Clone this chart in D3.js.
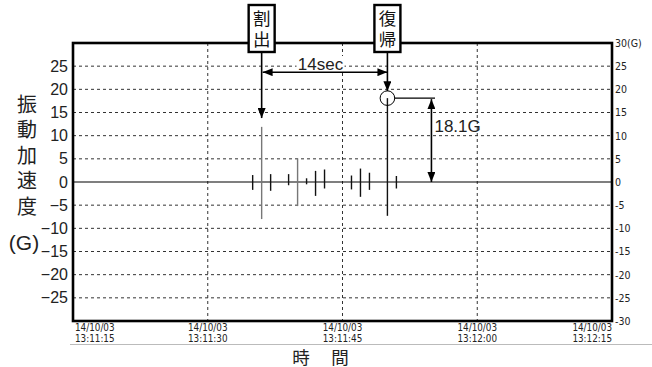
<!DOCTYPE html>
<html>
<head>
<meta charset="utf-8">
<script src="https://cdn.jsdelivr.net/npm/d3@7"></script>
<style>
  body { margin: 0; background: #fff; }
  svg { display: block; }
  .vert { writing-mode: vertical-rl; text-orientation: upright; }
</style>
</head>
<body>
<svg id="chart" width="652" height="367"></svg>
<script>
// seconds after 13:11:15 for each vibration spike, with its peak up / down (G)
const spikeTimes = [20, 21, 22, 24, 25, 26, 27, 28, 31, 32, 33, 35, 36]
const spikeMax = [1.5, 11.9, 1.7, 1.7, 5.1, 0.8, 2.4, 2.7, 1.4, 2.9, 2.0, 18.1, 1.3]
const spikeMin = [-1.7, -8.0, -1.9, -0.7, -5.2, -0.5, -3.0, -1.4, -1.6, -3.2, -1.7, -7.3, -1.4]

const timeTicks = [0, 15, 30, 45, 60]
const dateLabels = ['14/10/03', '14/10/03', '14/10/03', '14/10/03', '14/10/03']
const timeLabels = ['13:11:15', '13:11:30', '13:11:45', '13:12:00', '13:12:15']
const gTicks = [-25, -20, -15, -10, -5, 0, 5, 10, 15, 20, 25]
const rightTicks = [-30, -25, -20, -15, -10, -5, 0, 5, 10, 15, 20, 25, 30]

const cutTime = 21, returnTime = 35, peak = 18.1

const svg = d3.select('#chart')
const x = d3.scaleLinear().domain([0, 60]).range([73, 612])
const y = d3.scaleLinear().domain([-30, 30]).range([321, 43])

const sans = 'Arial, "Liberation Sans", sans-serif'
const narrow = '"DejaVu Sans Condensed", "Liberation Sans Narrow", sans-serif'
const cjk = '"Noto Sans CJK JP", sans-serif'

// arrow head
svg.append('defs').append('marker')
    .attr('id', 'head')
    .attr('viewBox', '0 0 10 8')
    .attr('refX', 10).attr('refY', 4)
    .attr('markerWidth', 10).attr('markerHeight', 8)
    .attr('markerUnits', 'userSpaceOnUse')
    .attr('orient', 'auto-start-reverse')
  .append('path').attr('d', 'M0,0L10,4L0,8Z').attr('fill', '#000')

// grid
const grid = svg.append('g')
grid.selectAll('.hg').data(gTicks.filter(d => d !== 0)).join('line')
    .attr('x1', x(0)).attr('x2', x(60))
    .attr('y1', d => y(d)).attr('y2', d => y(d))
    .attr('stroke', '#333').attr('stroke-dasharray', '3,3')
grid.selectAll('.vg').data(timeTicks.slice(1, -1)).join('line')
    .attr('x1', d => x(d)).attr('x2', d => x(d))
    .attr('y1', y(30)).attr('y2', y(-30))
    .attr('stroke', '#333').attr('stroke-dasharray', '3,3')
svg.append('line')
    .attr('x1', x(0)).attr('x2', x(60))
    .attr('y1', y(0)).attr('y2', y(0))
    .attr('stroke', '#000').attr('stroke-width', 1.2)

// spikes
const spikes = spikeTimes.map((t, i) => ({t, hi: spikeMax[i], lo: spikeMin[i]}))
svg.append('g').selectAll('line').data(spikes).join('line')
    .attr('x1', d => x(d.t)).attr('x2', d => x(d.t))
    .attr('y1', d => y(d.hi)).attr('y2', d => y(d.lo))
    .attr('stroke', d => (d.t === 21 || d.t === 25) ? '#777' : '#111')
    .attr('stroke-width', 1.4)

// frame
svg.append('rect')
    .attr('x', x(0)).attr('y', y(30))
    .attr('width', x(60) - x(0)).attr('height', y(-30) - y(30))
    .attr('fill', 'none').attr('stroke', '#000').attr('stroke-width', 2.6)

// left axis
const left = svg.append('g').attr('transform', `translate(${x(0) - 4},0)`)
    .call(d3.axisLeft(y).tickValues(gTicks).tickSize(0).tickPadding(1))
left.select('.domain').remove()
left.selectAll('text').attr('font-family', sans).attr('font-size', 16).attr('fill', '#222')

// right axis
const right = svg.append('g').attr('transform', `translate(${x(60) + 2},0)`)
    .call(d3.axisRight(y).tickValues(rightTicks).tickSize(0).tickPadding(1)
        .tickFormat(d => d === 30 ? '30(G)' : d))
right.select('.domain').remove()
right.selectAll('text').attr('font-family', narrow).attr('font-size', 10.5).attr('fill', '#222')

// bottom time labels, date over time in one text
const bottom = svg.append('g')
timeTicks.forEach((t, i) => {
  const anchor = i === 0 ? 'start' : i === timeTicks.length - 1 ? 'end' : 'middle'
  const tx = i === 0 ? x(t) + 2 : x(t)
  const lbl = bottom.append('text').attr('x', tx).attr('y', 331).attr('text-anchor', anchor)
      .attr('font-family', narrow).attr('font-size', 9.8).attr('fill', '#222')
  lbl.append('tspan').attr('x', tx).text(dateLabels[i])
  lbl.append('tspan').attr('x', tx).attr('dy', 11).text(timeLabels[i])
})
svg.append('line').attr('x1', 70).attr('x2', 652).attr('y1', 344.5).attr('y2', 344.5)
    .attr('stroke', '#bbb')

// axis titles
svg.append('text').attr('class', 'vert')
    .attr('x', 27).attr('y', 94)
    .attr('font-family', cjk).attr('font-size', 20).attr('letter-spacing', 5.5)
    .attr('fill', '#222').text('振動加速度')
svg.append('text').attr('x', 24).attr('y', 242)
    .attr('text-anchor', 'middle').attr('dominant-baseline', 'central')
    .attr('font-family', sans).attr('font-size', 21).attr('fill', '#222').text('(G)')
svg.append('g').selectAll('text').data([['時', 301], ['間', 340]]).join('text')
    .attr('x', d => d[1]).attr('y', 356)
    .attr('text-anchor', 'middle').attr('dominant-baseline', 'central')
    .attr('font-family', cjk).attr('font-size', 17.5).attr('fill', '#222')
    .text(d => d[0])

// annotations: event boxes
const events = [{t: cutTime, label: '割出'}, {t: returnTime, label: '復帰'}]
const ev = svg.append('g').selectAll('g').data(events).join('g')
    .attr('transform', d => `translate(${x(d.t)},0)`)
ev.append('rect').attr('x', -13).attr('y', 5).attr('width', 26).attr('height', 47)
    .attr('fill', '#fff').attr('stroke', '#000').attr('stroke-width', 2.4)
ev.append('text').attr('class', 'vert')
    .attr('x', 0).attr('y', 9.5)
    .attr('font-family', cjk).attr('font-size', 17.5).attr('letter-spacing', 3.5)
    .attr('fill', '#111').text(d => d.label)

const ann = svg.append('g').attr('stroke', '#000').attr('stroke-width', 1.6)
ann.append('line').attr('x1', x(cutTime)).attr('x2', x(cutTime))
    .attr('y1', 53).attr('y2', y(13.8)).attr('marker-end', 'url(#head)')
ann.append('line').attr('x1', x(returnTime)).attr('x2', x(returnTime))
    .attr('y1', 53).attr('y2', y(peak) - 7).attr('marker-end', 'url(#head)')

// 14 sec span
ann.append('line').attr('x1', x(cutTime) + 1).attr('x2', x(returnTime))
    .attr('y1', y(23.7)).attr('y2', y(23.7))
    .attr('marker-start', 'url(#head)').attr('marker-end', 'url(#head)')
const mid = (x(cutTime) + x(returnTime)) / 2 - 4
svg.append('rect').attr('x', mid - 24).attr('y', 56).attr('width', 48).attr('height', 14).attr('fill', '#fff')
svg.append('text').attr('x', mid).attr('y', 70).attr('text-anchor', 'middle')
    .attr('font-family', sans).attr('font-size', 17).attr('fill', '#222').text(`${returnTime - cutTime}sec`)

// peak marker
svg.append('circle').attr('cx', x(returnTime)).attr('cy', y(peak)).attr('r', 7.3)
    .attr('fill', 'none').attr('stroke', '#000').attr('stroke-width', 1)
svg.append('line').attr('x1', x(returnTime) + 7).attr('x2', x(40.3))
    .attr('y1', y(peak)).attr('y2', y(peak)).attr('stroke', '#000').attr('stroke-width', 1.2)
ann.append('line').attr('x1', x(39.9)).attr('x2', x(39.9))
    .attr('y1', y(peak) + 1).attr('y2', y(0))
    .attr('marker-start', 'url(#head)').attr('marker-end', 'url(#head)')
svg.append('text').attr('x', x(39.9) + 3).attr('y', 132)
    .attr('font-family', sans).attr('font-size', 17).attr('fill', '#222').text(`${peak}G`)
</script>
</body>
</html>
